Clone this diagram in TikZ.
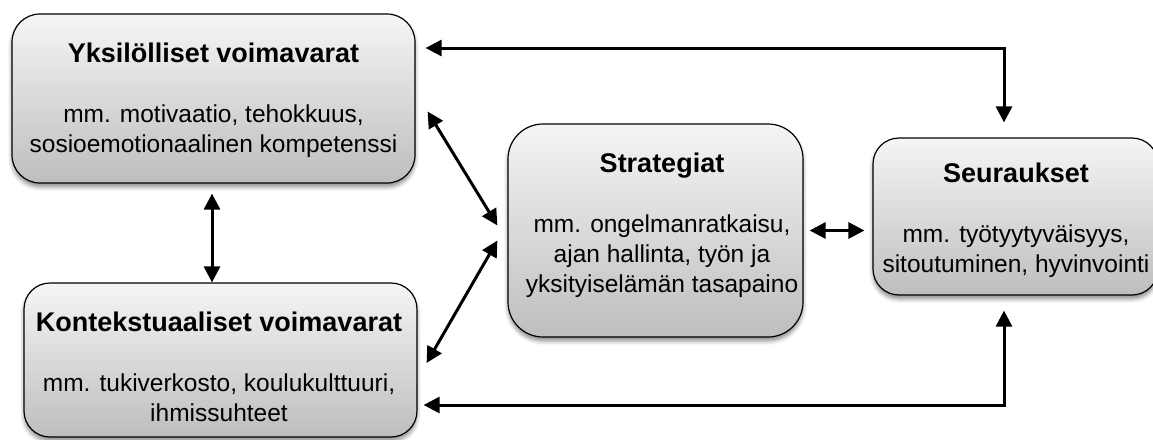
\documentclass[tikz,border=0pt]{standalone}
\usepackage{fontspec}
\setmainfont{Liberation Sans}
\usetikzlibrary{arrows.meta,shadows.blur}

\definecolor{boxtop}{RGB}{245,245,245}
\definecolor{boxbottom}{RGB}{190,190,190}

\newcommand{\otsikko}[1]{{\fontsize{27}{30}\selectfont\bfseries #1}}

\tikzset{
  box/.style={draw=black, line width=1.2pt, rounded corners=#1,
    top color=boxtop, bottom color=boxbottom, inner sep=0pt,
    blur shadow={shadow xshift=0pt, shadow yshift=-4pt,
      shadow blur radius=4pt, shadow opacity=45}},
  txt/.style={align=center, inner sep=0pt,
    font=\fontsize{24.5}{30}\selectfont},
  conn/.style={line width=3pt,
    {Triangle[width=16pt,length=16pt]}-{Triangle[width=16pt,length=16pt]}}
}

\begin{document}
\begin{tikzpicture}[x=1pt,y=-1pt]
  \useasboundingbox (0,0) rectangle (1153,439);

  % laatikot
  \node[box=28pt, minimum width=403pt, minimum height=169pt] (yks) at (213.5,98.5) {};
  \node[box=26pt, minimum width=393pt, minimum height=154pt] (kont) at (220.5,360) {};
  \node[box=35pt, minimum width=295pt, minimum height=213pt] (strat) at (655.5,230.5) {};
  \node[box=26pt, minimum width=285pt, minimum height=157pt] (seur) at (1015.5,216.5) {};

  % tekstit
  \node[txt] (yksteksti) at (213.5,100) {\otsikko{Yksilölliset voimavarat}\\[30pt]mm. motivaatio, tehokkuus,\\sosioemotionaalinen kompetenssi};
  \node[txt] (kontteksti) at (219,367) {\otsikko{Kontekstuaaliset voimavarat}\\[30pt]mm. tukiverkosto, koulukulttuuri,\\ihmissuhteet};
  \node[txt] (strateksti) at (662,225) {\otsikko{Strategiat}\\[30pt]mm. ongelmanratkaisu,\\ajan hallinta, työn ja\\yksityiselämän tasapaino};
  \node[txt] (seurteksti) at (1016,220) {\otsikko{Seuraukset}\\[30pt]mm. työtyytyväisyys,\\sitoutuminen, hyvinvointi};

  % nuolet
  \coordinate (ylakulma) at (1004,48);
  \coordinate (alakulma) at (1004,405);
  \coordinate (pysty) at (212,0);
  \draw[conn] ([xshift=10pt]yks.east |- ylakulma) -- (ylakulma) -- ([yshift=15pt]seur.north -| ylakulma);
  \draw[conn] ([xshift=6pt]kont.east |- alakulma) -- (alakulma) -- ([yshift=-15pt]seur.south -| alakulma);
  \draw[conn] ([yshift=-10pt]yks.south -| pysty) -- (kont.north -| pysty);
  \draw[conn] ([xshift=12pt,yshift=-13pt]yks.east) -- ([xshift=-10pt,yshift=5pt]strat.west);
  \draw[conn] ([xshift=-10pt,yshift=-10pt]strat.west) -- ([xshift=9pt,yshift=-3pt]kont.east);
  \draw[conn] ([xshift=6pt]strat.east) -- ([xshift=-8pt]strat.east -| seur.west);
\end{tikzpicture}
\end{document}
